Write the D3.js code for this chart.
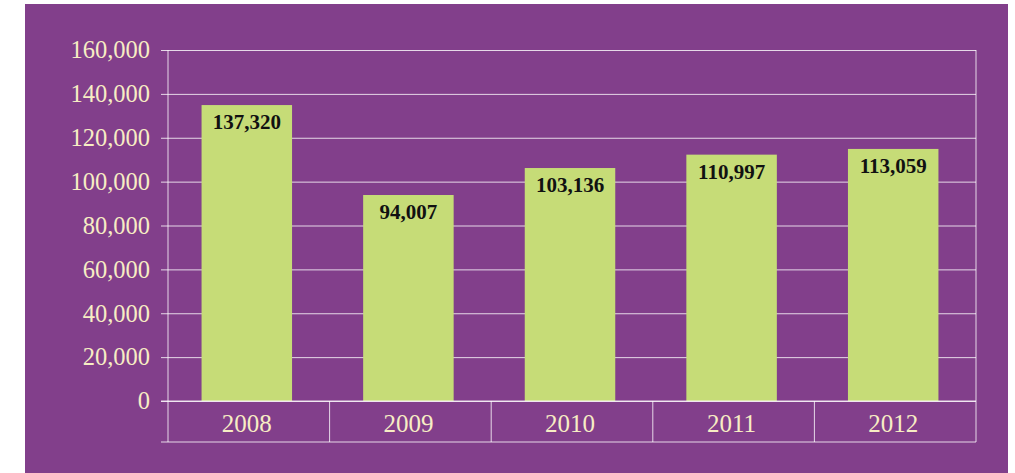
<!DOCTYPE html>
<html>
<head>
<meta charset="utf-8">
<script src="https://cdn.jsdelivr.net/npm/d3@7"></script>
<style>
  body { margin: 0; background: #fff; }
  svg { display: block; }
</style>
</head>
<body>
<svg width="1015" height="473"></svg>
<script>
// years on the x axis
const years = ['2008', '2009', '2010', '2011', '2012'];
// bar heights as drawn in the picture
const barValues = [134900, 93900, 106200, 112300, 114900];
// numbers printed on the bars
const barLabels = ['137,320', '94,007', '103,136', '110,997', '113,059'];
// y ticks
const yTicks = [0, 20000, 40000, 60000, 80000, 100000, 120000, 140000, 160000];

const svg = d3.select('svg');

const plotLeft = 168, plotRight = 976, plotTop = 50, plotBase = 401, plotBottom = 442;

// purple panel
svg.append('rect')
    .attr('x', 25)
    .attr('y', 4)
    .attr('width', 983)
    .attr('height', 469)
    .style('fill', '#823f8b');

const x = d3.scaleBand()
    .domain(years)
    .range([plotLeft, plotRight])
    .paddingInner(0.44)
    .paddingOuter(0.22);

const y = d3.scaleLinear()
    .domain([0, 160000])
    .range([plotBase, plotTop]);

const lineColor = 'rgba(255,255,255,0.8)';

// y axis + gridlines
const yAxis = svg.append('g')
    .attr('transform', `translate(${plotLeft},0)`)
    .call(d3.axisLeft(y)
        .tickValues(yTicks)
        .tickFormat(d3.format(','))
        .tickSizeInner(-(plotRight - plotLeft))
        .tickSizeOuter(0)
        .tickPadding(18));

yAxis.select('.domain').remove();
yAxis.selectAll('.tick line')
    .attr('x1', -7)
    .style('stroke', lineColor);
yAxis.selectAll('.tick text')
    .style('font-family', '"Liberation Serif", serif')
    .style('font-size', '24.5px')
    .style('fill', '#f7edc4');

// frame lines
const frame = svg.append('g').style('stroke', lineColor).style('stroke-width', 1);
frame.append('line').attr('x1', plotLeft).attr('x2', plotLeft).attr('y1', plotTop).attr('y2', plotBottom);
frame.append('line').attr('x1', plotRight).attr('x2', plotRight).attr('y1', plotTop).attr('y2', plotBottom);
frame.append('line').attr('x1', plotLeft - 7).attr('x2', plotRight).attr('y1', plotBottom).attr('y2', plotBottom);

// category separators
frame.selectAll('.sep')
    .data(years.slice(1))
    .join('line')
    .attr('class', 'sep')
    .attr('x1', d => x(d) - x.step() * x.paddingInner() / 2)
    .attr('x2', d => x(d) - x.step() * x.paddingInner() / 2)
    .attr('y1', plotBase)
    .attr('y2', plotBottom);

// bars
svg.append('g')
    .selectAll('rect')
    .data(years)
    .join('rect')
    .attr('x', d => x(d) - 2)
    .attr('y', (d, i) => y(barValues[i]))
    .attr('width', x.bandwidth())
    .attr('height', (d, i) => plotBase - y(barValues[i]))
    .style('fill', '#c6dc77');

// baseline over bars
svg.append('line')
    .attr('x1', plotLeft - 7).attr('x2', plotRight)
    .attr('y1', plotBase).attr('y2', plotBase)
    .style('stroke', lineColor);

// value labels
svg.append('g')
    .selectAll('text')
    .data(years)
    .join('text')
    .attr('x', d => x(d) - 2 + x.bandwidth() / 2)
    .attr('y', (d, i) => y(barValues[i]) + 24)
    .attr('text-anchor', 'middle')
    .style('font-family', '"Liberation Serif", serif')
    .style('font-weight', 'bold')
    .style('font-size', '21px')
    .style('fill', '#111')
    .text((d, i) => barLabels[i]);

// year labels
svg.append('g')
    .selectAll('text')
    .data(years)
    .join('text')
    .attr('x', d => x(d) - 2 + x.bandwidth() / 2)
    .attr('y', 432)
    .attr('text-anchor', 'middle')
    .style('font-family', '"Liberation Serif", serif')
    .style('font-size', '25px')
    .style('fill', '#f7edc4')
    .text(d => d);
</script>
</body>
</html>
